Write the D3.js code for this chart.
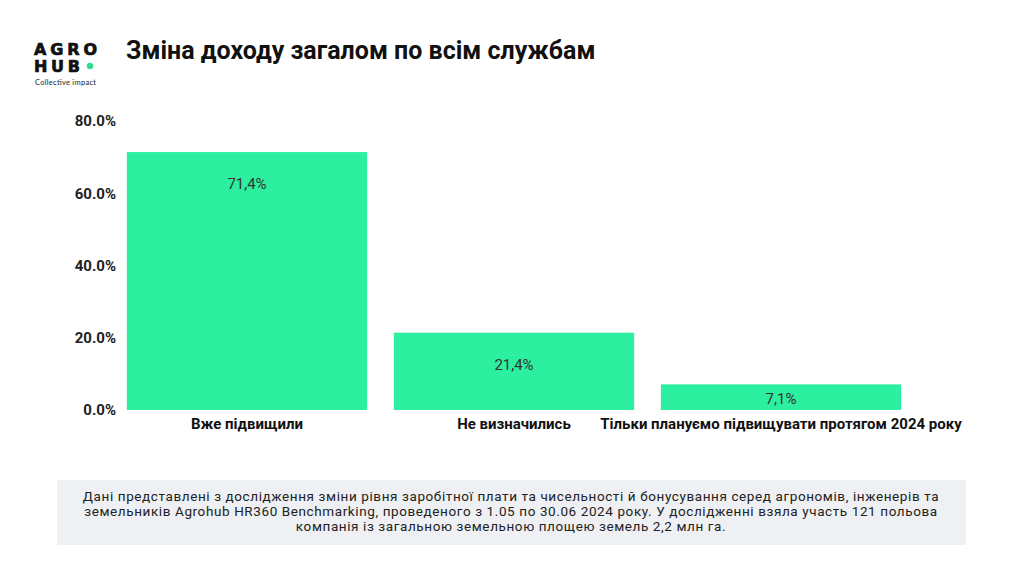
<!DOCTYPE html>
<html><head><meta charset="utf-8">
<script src="https://cdn.jsdelivr.net/npm/d3@7"></script>
<style>body{margin:0;background:#fff}svg{display:block}</style>
</head><body>
<script>
const categories = ["Вже підвищили", "Не визначились", "Тільки плануємо підвищувати протягом 2024 року"];
const values = [71.4, 21.4, 7.1];
const valueLabels = ["71,4%", "21,4%", "7,1%"];
const yTicks = [0, 20, 40, 60, 80];
const title = "Зміна доходу загалом по всім службам";
const footnote = [
  "Дані представлені з дослідження зміни рівня заробітної плати та чисельності й бонусування серед агрономів, інженерів та",
  "земельників Agrohub HR360 Benchmarking, проведеного з 1.05 по 30.06 2024 року. У дослідженні взяла участь 121 польова",
  "компанія із загальною земельною площею земель 2,2 млн га."
];

const W = 1024, H = 576;
const svg = d3.select("body").append("svg").attr("width", W).attr("height", H);
svg.append("rect").attr("width", W).attr("height", H).attr("fill", "#fff");

// logo
const logo = svg.append("g").attr("font-family", "'DejaVu Sans', Lato, sans-serif").attr("font-weight", 700).attr("fill", "#111");
logo.append("text").attr("x", 34).attr("y", 55).attr("font-size", 16).attr("stroke", "#111").attr("stroke-width", 0.7)
  .attr("textLength", 63).attr("lengthAdjust", "spacing").text("AGRO");
logo.append("text").attr("x", 34).attr("y", 72).attr("font-size", 16).attr("stroke", "#111").attr("stroke-width", 0.7)
  .attr("textLength", 46).attr("lengthAdjust", "spacing").text("HUB");
logo.append("circle").attr("cx", 90).attr("cy", 66).attr("r", 3.2).attr("fill", "#2de08c");
logo.append("text").attr("x", 35).attr("y", 85).attr("font-family", "Lato, sans-serif").attr("font-size", 7.5).attr("font-weight", 500).attr("fill", "#333").attr("textLength", 61).text("Collective impact");

svg.append("text").attr("x", 126).attr("y", 59).attr("font-family", "Roboto, sans-serif")
  .attr("font-weight", 700).attr("font-size", 25).attr("fill", "#111").text(title);

const x = d3.scaleBand().domain(categories).range([113.5, 914.5]).paddingInner(0.1).paddingOuter(0.05);
const y = d3.scaleLinear().domain([0, 80]).range([410, 121]);

const yAxis = svg.append("g").attr("transform", "translate(117,0)")
  .call(d3.axisLeft(y).tickValues(yTicks).tickSize(0).tickPadding(1).tickFormat(d => d.toFixed(1) + "%"));
yAxis.select(".domain").remove();
yAxis.selectAll("text").attr("font-family", "Roboto, sans-serif").attr("font-weight", 700).attr("font-size", 15).attr("fill", "#222");

svg.append("g").selectAll("rect").data(values).join("rect")
  .attr("x", (d, i) => x(categories[i])).attr("width", x.bandwidth())
  .attr("y", d => y(d)).attr("height", d => y(0) - y(d)).attr("fill", "#2cf0a0");

svg.append("g").selectAll("text").data(values).join("text")
  .attr("x", (d, i) => x(categories[i]) + x.bandwidth() / 2)
  .attr("y", d => Math.min(y(d) + 32, (y(d) + y(0)) / 2 + 2))
  .attr("dy", "0.35em").attr("text-anchor", "middle")
  .attr("font-family", "Roboto, sans-serif").attr("font-size", 15).attr("fill", "#333")
  .text((d, i) => valueLabels[i]);

const xAxis = svg.append("g").attr("transform", "translate(0,410)")
  .call(d3.axisBottom(x).tickSize(0).tickPadding(8));
xAxis.select(".domain").remove();
xAxis.selectAll("text").attr("font-family", "Roboto, sans-serif").attr("font-weight", 700).attr("font-size", 15).attr("fill", "#111");

svg.append("rect").attr("x", 57).attr("y", 480).attr("width", 909).attr("height", 65).attr("fill", "#eef0f3");
svg.append("g").selectAll("text").data(footnote).join("text")
  .attr("x", 511).attr("y", (d, i) => 501 + i * 15).attr("text-anchor", "middle")
  .attr("font-family", "Roboto, sans-serif").attr("font-size", 13.5).attr("letter-spacing", 0.6)
  .attr("fill", "#222").text(d => d);
</script>
</body></html>
